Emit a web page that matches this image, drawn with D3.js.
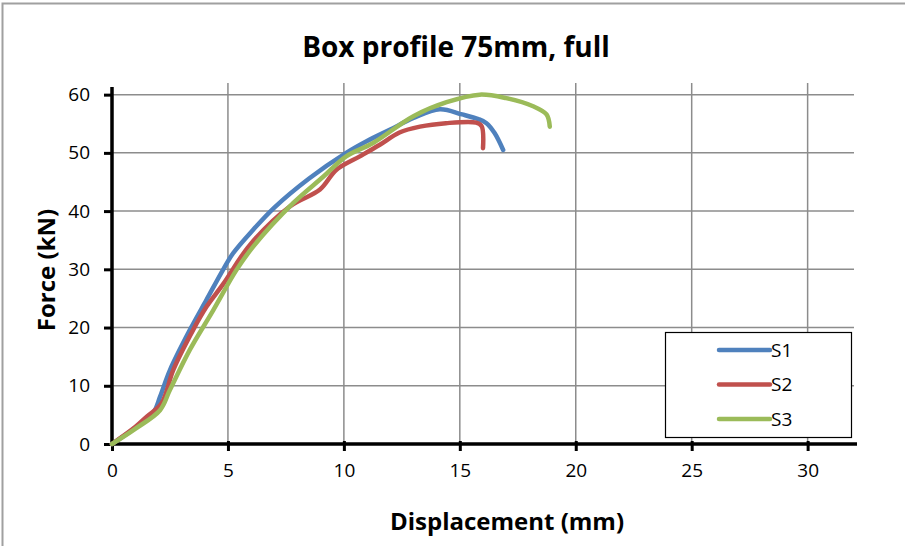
<!DOCTYPE html>
<html>
<head>
<meta charset="utf-8">
<script src="https://cdn.jsdelivr.net/npm/d3@7"></script>
<style>
body{margin:0;background:#fff;}
svg{display:block;font-family:'Open Sans','Liberation Sans',sans-serif;}
</style>
</head>
<body>
<svg class="chart" width="905" height="546"></svg>
<script>
// displacement (mm) / force (kN)
var s1X = [0,1.0,1.8,2.07,2.5,3.36,4.08,4.8,5.23,6.09,7.0,8.5,10.1,10.98,12.0,13.0,14.14,15.1,15.8,16.15,16.5,16.87];
var s1Y = [0,2.8,5.5,8.1,12.7,19.6,24.8,30,32.8,36.8,40.6,45.6,50,52,54,56,57.5,56.6,55.8,55.1,53.4,50.5];

var s2X = [0,1.0,1.5,2.14,2.64,3.5,4.08,4.8,5.95,7.67,8.97,9.68,10.69,11.55,12.4,13.28,14.4,15.7,15.94,16.0];
var s2Y = [0,2.9,4.7,7,12.7,19.6,23.6,27.5,34.2,40.8,43.7,47.1,49.4,51.4,53.5,54.5,55.1,55.2,54.6,50.8];

var s3X = [0,1.0,2.07,2.5,3.36,4.37,5.37,6.09,7.82,9.11,10.1,11.26,13.0,14.43,15.86,17.0,18.16,18.74,18.88];
var s3Y = [0,2.6,5.8,9.3,16.2,23,29.9,33.9,41.4,45.9,49.4,51.7,56.3,58.7,60,59.4,58,56.6,54.5];

var seriesNames = ['S1','S2','S3'];
var xTicks = [0,5,10,15,20,25,30];
var yTicks = [0,10,20,30,40,50,60];

var config = {
	left:112, right:854, top:83, bottom:444,
	colors:['#4F81BD','#C0504D','#9BBB59'],
	grid:'#8c8c8c'
};

var series = [
	s1X.map((x,i)=>({x:x,y:s1Y[i]})),
	s2X.map((x,i)=>({x:x,y:s2Y[i]})),
	s3X.map((x,i)=>({x:x,y:s3Y[i]}))
];

var svg = d3.select('.chart');

// outer frame
svg.append('path')
	.attr('d','M2.5,546V3.5H905')
	.attr('fill','none')
	.attr('stroke','#a0a0a0')
	.attr('stroke-width',2);

var xScale = d3.scaleLinear().domain([0,32]).range([config.left,config.right]);
var yScale = d3.scaleLinear().domain([0,62]).range([config.bottom,config.top]);

// grid
svg.append('g')
	.selectAll('line')
	.data(yTicks.slice(1))
	.enter()
	.append('line')
	.attr('x1',config.left).attr('x2',config.right)
	.attr('y1',d=>yScale(d)).attr('y2',d=>yScale(d))
	.attr('stroke',config.grid).attr('stroke-width',1.5);

svg.append('g')
	.selectAll('line')
	.data(xTicks.slice(1))
	.enter()
	.append('line')
	.attr('y1',config.top).attr('y2',config.bottom)
	.attr('x1',d=>xScale(d)).attr('x2',d=>xScale(d))
	.attr('stroke',config.grid).attr('stroke-width',1.5);

// axes
var xAxis = svg.append('g')
	.attr('transform','translate(0,'+config.bottom+')')
	.call(d3.axisBottom(xScale).tickValues(xTicks).tickSize(7).tickPadding(13));
var yAxis = svg.append('g')
	.attr('transform','translate('+config.left+',0)')
	.call(d3.axisLeft(yScale).tickValues(yTicks).tickSize(8).tickPadding(14));

[xAxis,yAxis].forEach(function(ax){
	ax.select('.domain').remove();
	ax.selectAll('line').attr('stroke','#000').attr('stroke-width',3);
	ax.selectAll('text').attr('font-size',19).attr('font-family','Open Sans,sans-serif').attr('fill','#000');
});
xAxis.selectAll('line').attr('y1',-3);

svg.append('line')
	.attr('x1',config.left).attr('x2',config.right+3)
	.attr('y1',config.bottom).attr('y2',config.bottom)
	.attr('stroke','#000').attr('stroke-width',3.5);
svg.append('line')
	.attr('x1',config.left).attr('x2',config.left)
	.attr('y1',config.top+4).attr('y2',config.bottom+1)
	.attr('stroke','#000').attr('stroke-width',3.5);

// curves
var lineGen = d3.line()
	.x(d=>xScale(d.x))
	.y(d=>yScale(d.y))
	.curve(d3.curveCatmullRom.alpha(0.5));

svg.append('g')
	.selectAll('path')
	.data(series)
	.enter()
	.append('path')
	.attr('d',lineGen)
	.attr('fill','none')
	.attr('stroke',(d,i)=>config.colors[i])
	.attr('stroke-width',4.5)
	.attr('stroke-linecap','round')
	.attr('stroke-linejoin','round');

// legend
var legend = svg.append('g');
legend.append('rect')
	.attr('x',665.5).attr('y',332.5)
	.attr('width',186).attr('height',105)
	.attr('fill','#fff').attr('stroke','#000').attr('stroke-width',1.2);

var items = legend.selectAll('g.item')
	.data(seriesNames)
	.enter()
	.append('g')
	.attr('transform',(d,i)=>'translate(0,'+(350+i*34.5)+')');

items.append('line')
	.attr('x1',719).attr('x2',770)
	.attr('stroke',(d,i)=>config.colors[i])
	.attr('stroke-width',4.5)
	.attr('stroke-linecap','round');
items.append('text')
	.text(d=>d)
	.attr('x',771).attr('y',0)
	.attr('dy','0.36em')
	.attr('font-size',19);

// titles
svg.append('text')
	.text('Box profile 75mm, full')
	.attr('x',456).attr('y',57)
	.attr('text-anchor','middle')
	.attr('font-size',28).attr('font-weight','bold');

svg.append('text')
	.text('Displacement (mm)')
	.attr('x',507).attr('y',530)
	.attr('text-anchor','middle')
	.attr('font-size',24).attr('font-weight','bold');

svg.append('text')
	.text('Force (kN)')
	.attr('transform','translate(55,270) rotate(-90)')
	.attr('text-anchor','middle')
	.attr('font-size',24).attr('font-weight','bold');
</script>
</body>
</html>
